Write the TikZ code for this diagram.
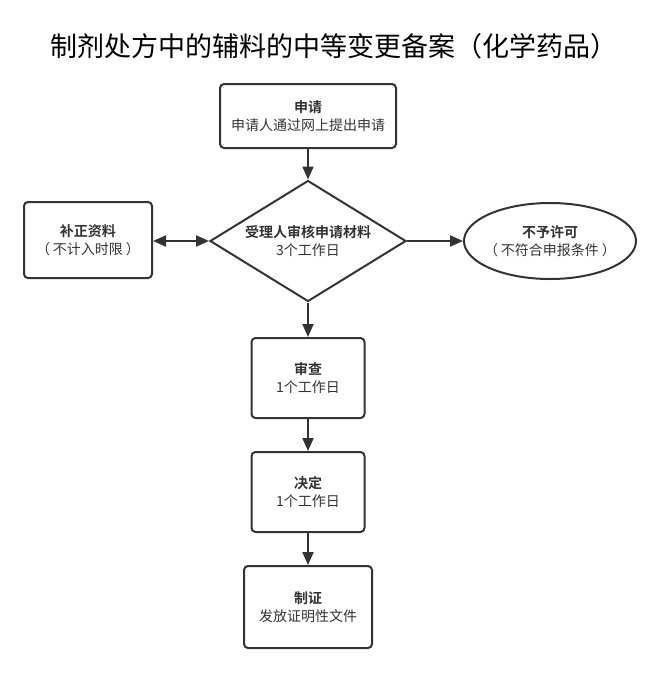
\documentclass[tikz,border=0pt]{standalone}
\usepackage{fontspec}
\setmainfont{Noto Sans CJK SC}[BoldFont={Noto Sans CJK SC Bold}]
\usetikzlibrary{shapes.geometric,arrows.meta}
\definecolor{ln}{HTML}{333333}
\definecolor{tx}{HTML}{333333}
\tikzset{
  box/.style={draw=ln, line width=2pt, rounded corners=4pt, align=center, text=tx, font=\fontsize{14}{18}\selectfont, inner sep=0pt},
  lbl/.style={align=center, text=tx, font=\fontsize{14}{18}\selectfont, inner sep=0pt},
  conn/.style={draw=ln, line width=2pt, -{Triangle[length=13pt,width=11pt]}},
}
\begin{document}
\begin{tikzpicture}[x=1pt,y=-1pt]
\useasboundingbox (0,0) rectangle (659,681);
\node[text=black, font=\fontsize{27}{30}\selectfont] (title) at (334,46) {制剂处方中的辅料的中等变更备案（化学药品）};
\node[box, minimum width=176pt, minimum height=64pt] (apply) at (308,116) {\textbf{申请}\\申请人通过网上提出申请};
\node[box, diamond, rounded corners=0pt, minimum width=196pt, minimum height=121pt, aspect=1.62] (review) at (308,241) {\textbf{受理人审核申请材料}\\3个工作日};
\node[box, minimum width=128pt, minimum height=76pt] (supp) at (88,240) {\textbf{补正资料}\\（\hspace{3pt}不计入时限\hspace{3pt}）};
\node[draw=ln, line width=2pt, ellipse, minimum width=172pt, minimum height=76pt, inner sep=0pt] (deny) at (550,241) {};
\node[lbl] (denytext) at (deny.center) {\textbf{不予许可}\\（\hspace{3pt}不符合申报条件\hspace{3pt}）};
\node[box, minimum width=113pt, minimum height=80pt] (check) at (308,378) {\textbf{审查}\\1个工作日};
\node[box, minimum width=113pt, minimum height=80pt] (decide) at (308,492) {\textbf{决定}\\1个工作日};
\node[box, minimum width=128pt, minimum height=82pt] (cert) at (308,607) {\textbf{制证}\\发放证明性文件};
\draw[conn] (apply) -- (review.north);
\draw[conn, {Triangle[length=13pt,width=11pt]}-{Triangle[length=13pt,width=11pt]}] (supp.east |- review.west) -- (review.west);
\draw[conn] (review.east) -- (deny.west);
\draw[conn] (review.south) -- (check);
\draw[conn] (check) -- (decide);
\draw[conn] (decide) -- (cert);
\end{tikzpicture}
\end{document}
